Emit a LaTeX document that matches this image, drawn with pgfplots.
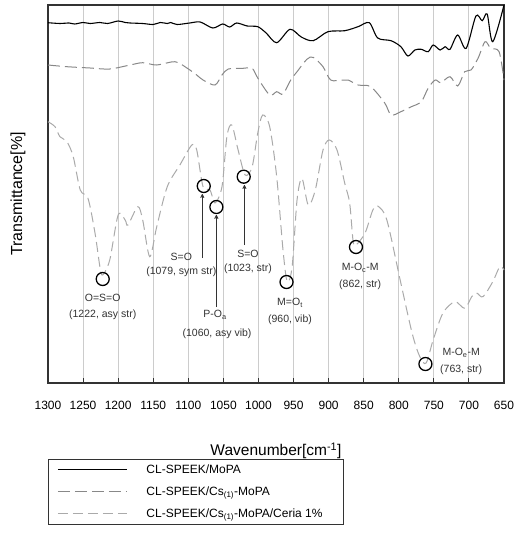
\documentclass[border=0pt]{standalone}
\usepackage{pgfplots}
\pgfplotsset{compat=1.18}
\usetikzlibrary{arrows.meta}
\usepackage{fontspec}
\setmainfont{Liberation Sans}
\definecolor{gridc}{HTML}{CCCCCC}
\definecolor{sertwo}{HTML}{888888}
\definecolor{serthree}{HTML}{AAAAAA}
\definecolor{axc}{HTML}{333333}
\begin{document}
\begin{tikzpicture}
\useasboundingbox (0,0) rectangle (517pt,-535pt);
\begin{axis}[
  at={(48pt,-383pt)}, anchor=south west,
  width=456pt, height=378pt, scale only axis,
  x dir=reverse, xmin=650, xmax=1300, ymin=0, ymax=378,
  xtick={650,700,...,1300}, ytick=\empty,
  xtick pos=bottom, tick align=inside, major tick length=5pt,
  xmajorgrids, grid style={gridc, line width=1pt},
  axis line style={axc, line width=1.2pt},
  tick style={axc, line width=1pt},
  /pgf/number format/assume math mode=true,
  /pgf/number format/set thousands separator={},
  xticklabel style={font=\fontsize{12}{14}\selectfont, yshift=-15pt},
  clip=false,
  legend style={at={(0,-0.201)}, anchor=north west, draw=axc, line width=0.8pt,
    font=\fontsize{12}{14}\selectfont, inner xsep=9pt, inner ysep=3pt,
    row sep=8pt, cells={anchor=west},
    /tikz/every odd column/.append style={column sep=17pt}},
  legend image code/.code={\draw[#1] (0pt,0pt) -- (69pt,0pt);},
]
\addplot[black, line width=1.1pt, smooth, tension=0.5] coordinates {
(1300,360.3)(1283,359.5)(1270,360)(1262,359)(1250,360.5)(1240,359.5)(1226,360.5)
(1215,359.5)(1200,362)(1190,360.5)(1183,360)(1165,359.5)(1150,358.5)(1140,360.5)
(1130,359.5)(1125,360.5)(1116,358.5)(1098,360)(1083,361)(1065,355)(1051,359)
(1041,356)(1031,360)(1016,357)(1001,356.3)(989,350)(974,340.3)(955,353.7)
(939,346)(922,342.3)(901,351.3)(877,352.3)(858,356.3)(842,360.3)(830,345)
(811,342.3)(797,336.3)(787,327)(777,333)(768,333.7)(758,331.3)(751,338)
(741,333)(734,336.3)(727,333.7)(716,348)(704,334.7)(690,367)(681,362.3)
(674,369)(666,341.3)(650,378)};
\addlegendentry{\makebox[186pt][l]{CL-SPEEK/MoPA}}
\addplot[sertwo, line width=1pt, dash pattern=on 12pt off 5pt, smooth, tension=0.5] coordinates {
(1300,318)(1273,316.3)(1240,315)(1212,314)(1183,318)(1165,320.3)(1145,318)
(1119,321.3)(1102,315)(1088,308)(1079,303)(1062,298)(1052,308)(1043,314)
(1022,314.7)(1009,314.7)(1001,305)(984,288)(974,291.3)(965,289)(954,303)
(945,311.3)(931,323.7)(922,325.7)(908,316.3)(897,303)(880,303)(872,303)
(858,298)(840,296.3)(820,280)(811,268)(797,271.3)(783,276)(768,281.3)
(758,295)(748,303)(740,300.3)(727,306.3)(716,297)(706,311.3)(697,313)
(687,324.7)(677,341.3)(669,334.7)(657,331.3)(650,303)};
\addlegendentry{CL-SPEEK/Cs\textsubscript{(1)}-MoPA}
\addplot[serthree, line width=1pt, dash pattern=on 10pt off 5pt, smooth, tension=0.5] coordinates {
(1300,261.3)(1290,256.3)(1283,246.3)(1273,241.3)(1264,226.3)(1254,193)(1243,184.7)
(1233,150)(1226,116.3)(1222,108)(1212,123)(1200,168)(1190,163)(1186,158)
(1172,176.3)(1165,163)(1155,126.3)(1145,156.3)(1130,196.3)(1112,218)(1095,238)
(1088,233)(1079,196.3)(1069,193)(1062,180)(1052,196.3)(1045,246.3)(1038,258)
(1029,233)(1019,208)(1009,216.3)(1001,250)(994,268)(984,256.3)(974,206.3)
(965,133)(959,101.3)(952,116.3)(945,183)(938,204.7)(929,178)(919,193)
(908,233)(899,243)(888,233)(877,199.7)(870,180)(865,141.3)(861,138)
(848,150)(837,173)(830,177)(817,163)(798,103)(781,50)(770,26.3)(761,20)
(751,43)(737,70)(720,81.3)(706,74.7)(696,86.3)(689,90)(680,86.3)(666,101.3)
(656,116.3)(650,113)};
\addlegendentry{CL-SPEEK/Cs\textsubscript{(1)}-MoPA/Ceria 1\%\rule[-11pt]{0pt}{0pt}}
% peak circles
\addplot[only marks, mark=o, mark size=6.5pt, mark options={black, line width=1.3pt}, forget plot]
 coordinates {(1222,104)(1078,197)(1060,176)(1021,206.3)(960,101)(861,136)(762,19)};
% arrows
\draw[axc, line width=0.9pt, -{To[length=4pt,width=4pt]}] (axis cs:1080,125) -- (axis cs:1080,189);
\draw[axc, line width=0.9pt, -{To[length=4pt,width=4pt]}] (axis cs:1060,76) -- (axis cs:1060,168);
\draw[axc, line width=0.9pt, -{To[length=4pt,width=4pt]}] (axis cs:1020,138) -- (axis cs:1020,198);
% labels
\begin{scope}[every node/.style={font=\fontsize{10.5}{12}\selectfont, text=axc, inner sep=0pt}]
\node at (axis cs:1222,85) {O=S=O};
\node at (axis cs:1222,68) {(1222, asy str)};
\node at (axis cs:1110,126) {S=O};
\node at (axis cs:1110,111) {(1079, sym str)};
\node at (axis cs:1062,68) {P-O\textsubscript{a}};
\node at (axis cs:1059,49) {(1060, asy vib)};
\node at (axis cs:1015,129) {S=O};
\node at (axis cs:1015,114) {(1023, str)};
\node at (axis cs:955,80) {M=O\textsubscript{t}};
\node at (axis cs:955,63) {(960, vib)};
\node at (axis cs:855,115) {M-O\textsubscript{c}-M};
\node at (axis cs:855,98) {(862, str)};
\node at (axis cs:711,30) {M-O\textsubscript{e}-M};
\node at (axis cs:711,13) {(763, str)};
\end{scope}
\end{axis}
\node[font=\fontsize{16}{18}\selectfont, rotate=90] at (18pt,-194pt) {Transmittance[\%]};
\node[font=\fontsize{15.5}{18}\selectfont] at (276pt,-451pt) {Wavenumber[cm\textsuperscript{-1}]};
\end{tikzpicture}
\end{document}
